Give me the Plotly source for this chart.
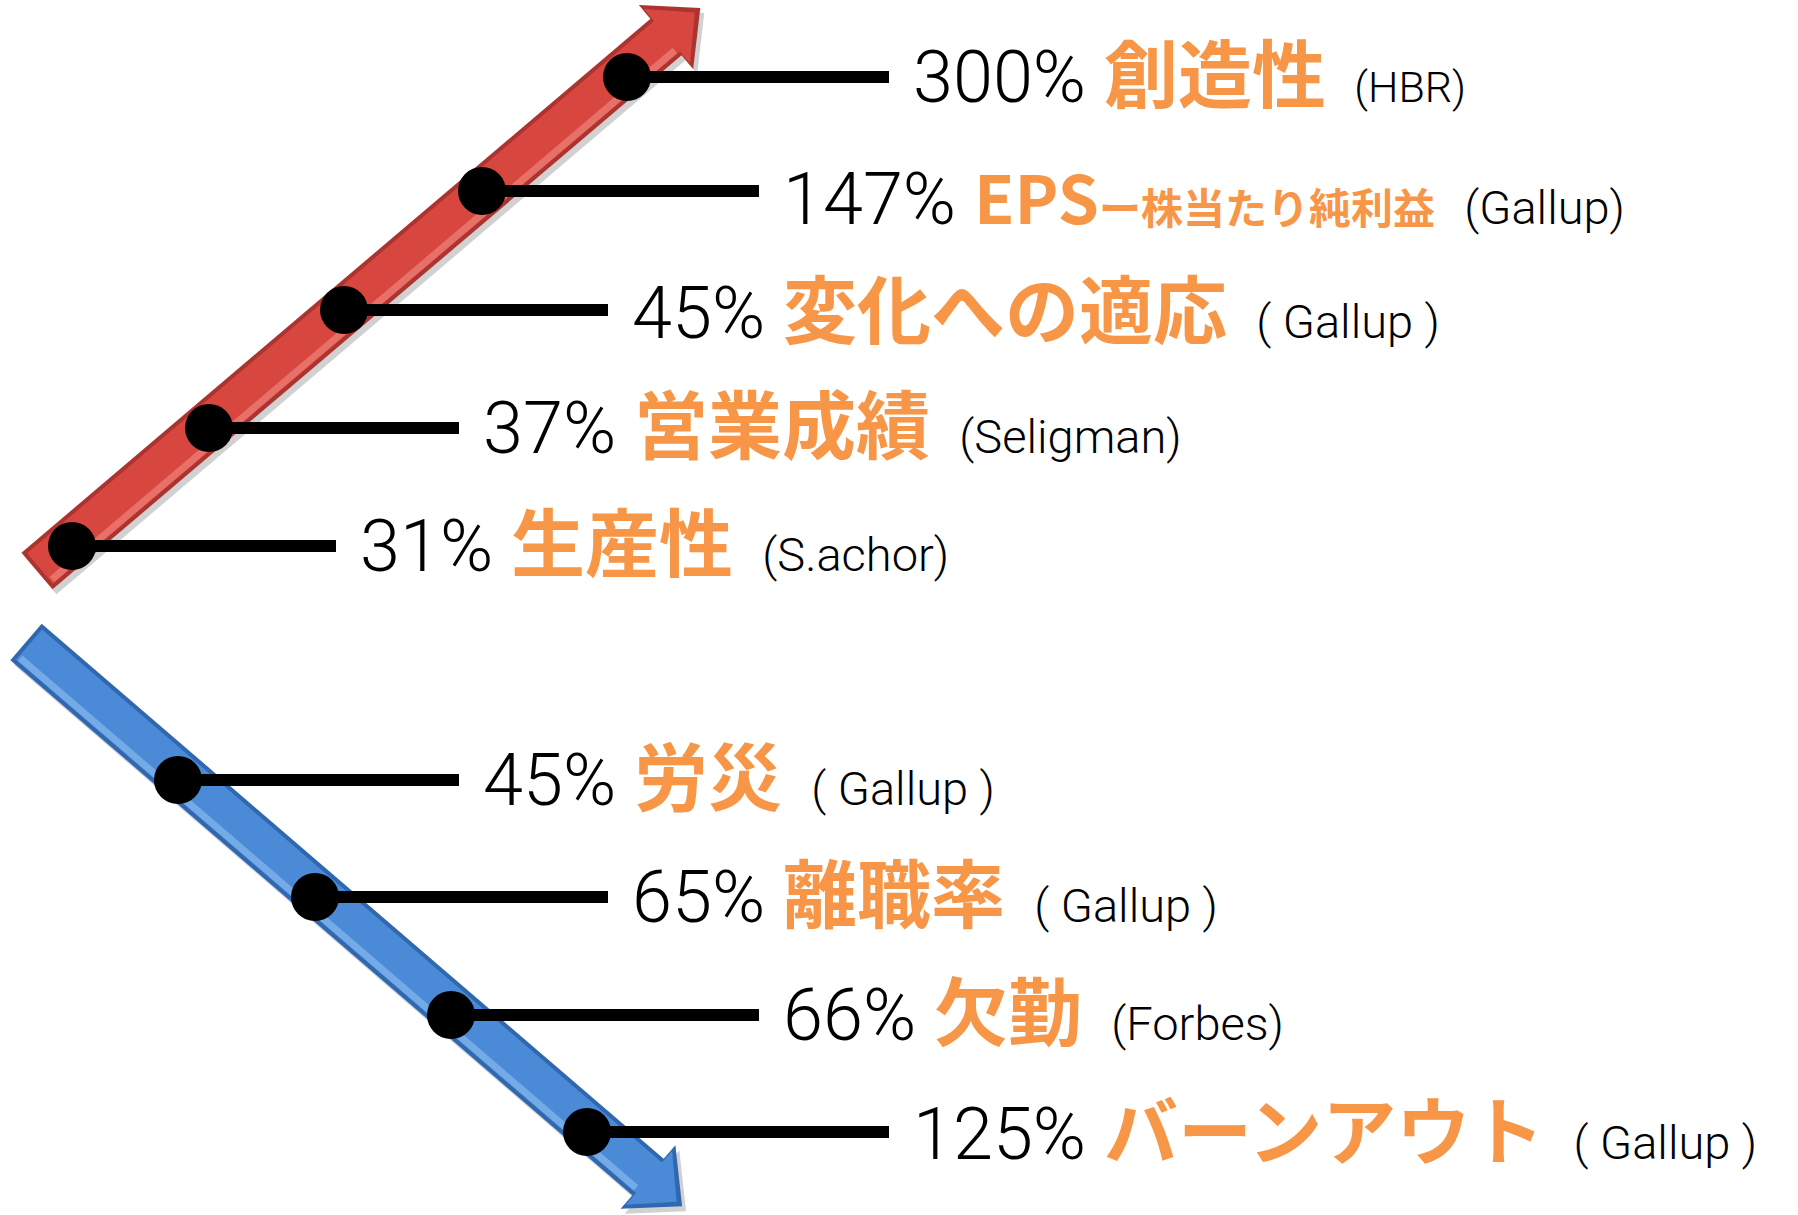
import numpy as np
import plotly.graph_objects as go

# ---------------- data ----------------
up_pcts = ["31%", "37%", "45%", "147%", "300%"]
up_labels = ["生産性", "営業成績", "変化への適応", "EPS", "創造性"]
up_sublabels = ["", "", "", "ー株当たり純利益", ""]
up_sources = ["(S.achor)", "(Seligman)", "( Gallup )", "(Gallup)", "(HBR)"]

down_pcts = ["45%", "65%", "66%", "125%"]
down_labels = ["労災", "離職率", "欠勤", "バーンアウト"]
down_sources = ["( Gallup )", "( Gallup )", "(Forbes)", "( Gallup )"]

# ---------------- layout geometry ----------------
W, H = 1798, 1215
up_dot_x = [72, 209, 344, 482, 627]
up_dot_y = [546, 428, 310, 191, 77]
up_line_end = [336, 459, 608, 759, 889]
up_src_size = [47, 47, 47, 47, 43]
up_label_size = [74, 74, 74, 66, 74]
up_text_shift = [8, 8, 5, -4, 8]

down_dot_x = [178, 315, 451, 587]
down_dot_y = [780, 897, 1015, 1132]
down_line_end = [459, 608, 759, 889]
down_src_size = [47, 47, 47, 47]
down_label_size = [74, 74, 74, 74]
down_text_shift = [8, 8, 8, 6]

ORANGE = "#F79646"
NUM_FONT = "Roboto"
CJK_FONT = "Noto Sans CJK JP"


def arrow_poly(tail, base, head_len, shaft_w, head_w, shrink=0.0):
    t = np.array(tail, float)
    b = np.array(base, float)
    d = (b - t) / np.linalg.norm(b - t)
    n = np.array([-d[1], d[0]])
    p = b + d * head_len
    sw = shaft_w / 2 - shrink
    hw = head_w / 2 - shrink * 1.6
    t2 = t + d * shrink
    p2 = p - d * shrink * 1.8
    b2 = b + d * shrink * 0.3
    pts = [t2 + n * sw, b2 + n * sw, b2 + n * hw, p2, b2 - n * hw, b2 - n * sw, t2 - n * sw, t2 + n * sw]
    xs = [q[0] for q in pts]
    ys = [q[1] for q in pts]
    return xs, ys


fig = go.Figure()


def add_arrow(tail, base, colors, hl_side):
    dark, mid, light, shadow = colors
    xs, ys = arrow_poly(tail, base, 45, 48, 84)
    fig.add_trace(go.Scatter(x=[x + 4 for x in xs], y=[y + 5 for y in ys], fill="toself",
                             fillcolor=shadow, line=dict(width=0), mode="lines",
                             hoverinfo="skip", showlegend=False))
    fig.add_trace(go.Scatter(x=xs, y=ys, fill="toself", fillcolor=dark,
                             line=dict(width=0), mode="lines", hoverinfo="skip", showlegend=False))
    xs, ys = arrow_poly(tail, base, 45, 48, 84, shrink=4)
    fig.add_trace(go.Scatter(x=xs, y=ys, fill="toself", fillcolor=mid,
                             line=dict(width=0), mode="lines", hoverinfo="skip", showlegend=False))
    t = np.array(tail, float)
    b = np.array(base, float)
    d = (b - t) / np.linalg.norm(b - t)
    n = np.array([-d[1], d[0]]) * hl_side
    a1 = t + n * 16 + d * 6
    a2 = b + n * 16 - d * 2
    fig.add_trace(go.Scatter(x=[a1[0], a2[0]], y=[a1[1], a2[1]], mode="lines",
                             line=dict(color=light, width=7), opacity=0.7,
                             hoverinfo="skip", showlegend=False))


add_arrow((37, 571), (666, 37), ("#AC3430", "#D8473F", "#EE847C", "rgba(0,0,0,0.18)"), hl_side=1)
add_arrow((26, 642), (648, 1177), ("#2F68B0", "#4A8AD6", "#86B9EE", "rgba(0,0,0,0.18)"), hl_side=1)

for dx, dy, le in list(zip(up_dot_x, up_dot_y, up_line_end)) + list(zip(down_dot_x, down_dot_y, down_line_end)):
    fig.add_trace(go.Scatter(x=[dx, le], y=[dy, dy], mode="lines",
                             line=dict(color="black", width=12), hoverinfo="skip", showlegend=False))

fig.add_trace(go.Scatter(x=up_dot_x + down_dot_x, y=up_dot_y + down_dot_y, mode="markers",
                         marker=dict(color="black", size=48, line=dict(width=0)),
                         hoverinfo="skip", showlegend=False))


def row_text(pct, label, sub, src, src_size, label_size):
    s = f'<span style="font-family:{NUM_FONT};font-weight:300;font-size:72px">{pct}</span> '
    s += (f'<span style="font-family:\'{CJK_FONT}\';font-weight:bold;color:{ORANGE};font-size:{label_size}px">'
          f'{label}</span>')
    if sub:
        s += (f'<span style="font-family:\'{CJK_FONT}\';font-weight:bold;color:{ORANGE};font-size:42px">'
              f'{sub}</span>')
    s += f' <span style="font-family:{NUM_FONT};font-weight:300;font-size:{src_size}px"> {src}</span>'
    return s


for i in range(len(up_pcts)):
    fig.add_annotation(x=up_line_end[i] + 22, y=up_dot_y[i], xref="x", yref="y",
                       text=row_text(up_pcts[i], up_labels[i], up_sublabels[i], up_sources[i],
                                     up_src_size[i], up_label_size[i]),
                       showarrow=False, xanchor="left", yanchor="middle", yshift=up_text_shift[i],
                       font=dict(family=NUM_FONT, size=72, color="black"))
for i in range(len(down_pcts)):
    fig.add_annotation(x=down_line_end[i] + 22, y=down_dot_y[i], xref="x", yref="y",
                       text=row_text(down_pcts[i], down_labels[i], "", down_sources[i],
                                     down_src_size[i], down_label_size[i]),
                       showarrow=False, xanchor="left", yanchor="middle", yshift=down_text_shift[i],
                       font=dict(family=NUM_FONT, size=72, color="black"))

fig.update_xaxes(range=[0, W], visible=False, fixedrange=True)
fig.update_yaxes(range=[H, 0], visible=False, fixedrange=True)
fig.update_layout(width=W, height=H, autosize=False, margin=dict(l=0, r=0, t=0, b=0),
                  paper_bgcolor="white", plot_bgcolor="white", showlegend=False)

fig.write_html("out.html", config={"displayModeBar": False})
